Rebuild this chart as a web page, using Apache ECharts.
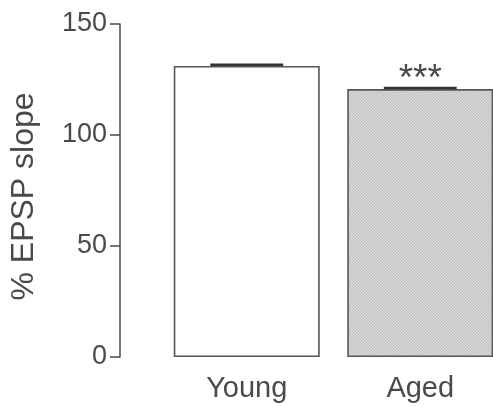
<!DOCTYPE html>
<html>
<head>
<meta charset="utf-8">
<script src="https://cdn.jsdelivr.net/npm/echarts@6/dist/echarts.min.js"></script>
<style>
  html, body { margin: 0; padding: 0; background: #ffffff; overflow: hidden; }
  /* the plot area runs a little past the right edge of the page */
  #chart { width: 507px; height: 407px; }
</style>
</head>
<body>
<div id="chart"></div>
<script>
// Groups and mean % EPSP slope with SEM
const groups = ['Young', 'Aged'];
const means = [131.1, 120.7];
const sems = [0.5, 0.5];
const marks = ['', '***'];
const yTicks = [0, 50, 100, 150];

// Fine grey hatch used for the Aged bar
function hatch() {
  const c = document.createElement('canvas');
  c.width = 3; c.height = 3;
  const g = c.getContext('2d');
  g.fillStyle = '#d6d6d6';
  g.fillRect(0, 0, 3, 3);
  g.fillStyle = '#bebebe';
  g.fillRect(0, 0, 1, 1);
  g.fillRect(1, 1, 1, 1);
  g.fillRect(2, 2, 1, 1);
  return c;
}

const fills = ['#ffffff', { image: hatch(), repeat: 'repeat' }];
const ink = '#4a4a4a';
const font = 'Liberation Sans, Arial, Helvetica, sans-serif';

const chart = echarts.init(document.getElementById('chart'), null, { renderer: 'canvas' });

chart.setOption({
  backgroundColor: '#ffffff',
  animation: false,
  grid: { left: 156.5, right: 0, top: 24, bottom: 50, containLabel: false },
  xAxis: {
    type: 'category',
    data: groups,
    axisLine: { show: false },
    axisTick: { show: false },
    axisLabel: { color: ink, fontSize: 29, fontFamily: font, margin: 17 }
  },
  yAxis: {
    type: 'value',
    min: yTicks[0],
    max: yTicks[yTicks.length - 1],
    interval: 50,
    offset: 40,
    name: '% EPSP slope',
    nameLocation: 'middle',
    nameGap: 80,
    nameTextStyle: { color: ink, fontSize: 32, fontFamily: font, padding: [0, 12, 0, 0] },
    splitLine: { show: false },
    axisLine: { show: true, lineStyle: { color: ink, width: 1.5 } },
    axisTick: { show: true, length: 10, lineStyle: { color: ink, width: 1.5 } },
    axisLabel: { color: ink, fontSize: 27, fontFamily: font, margin: 13 }
  },
  series: [
    {
      type: 'bar',
      barWidth: 146,
      data: means.map((v, i) => ({
        value: v,
        itemStyle: { color: fills[i], borderColor: '#555555', borderWidth: 1.6 },
        label: {
          show: marks[i] !== '',
          formatter: marks[i],
          position: 'top',
          distance: 2,
          offset: [0, 11],
          color: ink,
          fontSize: 37,
          fontFamily: font
        }
      }))
    },
    {
      // SEM caps drawn on top of each bar
      type: 'custom',
      data: means.map((v, i) => [i, v, sems[i]]),
      renderItem: function (params, api) {
        const x = api.value(0);
        const top = api.coord([x, api.value(1) + api.value(2)]);
        const mid = api.coord([x, api.value(1)]);
        const half = api.size([1, 0])[0] * 0.21;
        return {
          type: 'group',
          children: [
            { type: 'line', shape: { x1: top[0], y1: mid[1], x2: top[0], y2: top[1] },
              style: { stroke: '#333333', lineWidth: 1.5 } },
            { type: 'line', shape: { x1: top[0] - half, y1: top[1], x2: top[0] + half, y2: top[1] },
              style: { stroke: '#333333', lineWidth: 2.5 } }
          ]
        };
      },
      z: 5
    }
  ]
});
</script>
</body>
</html>
